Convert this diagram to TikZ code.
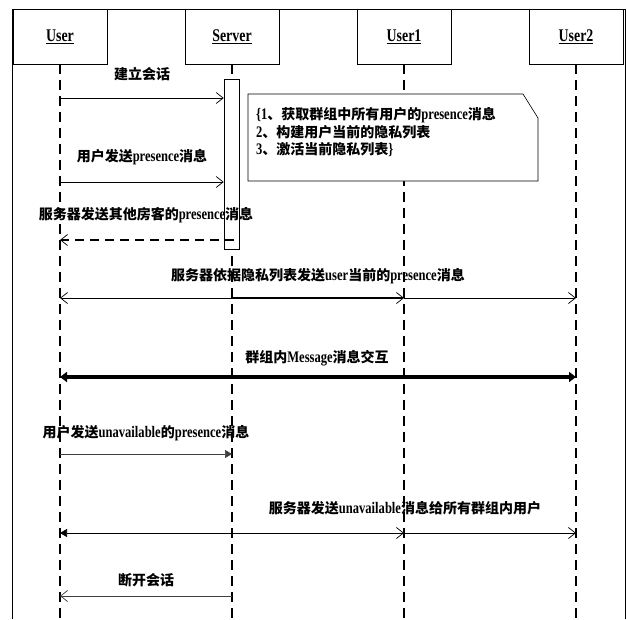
\documentclass[tikz,border=0pt]{standalone}
\usepackage{fontspec}
\setmainfont{Liberation Serif}[FakeStretch=0.78, Scale=1.15]
\newfontfamily\cjk{Noto Sans CJK SC}
\usetikzlibrary{arrows.meta}
\newcommand\zh[1]{{\cjk #1}}
\begin{document}
\begin{tikzpicture}[x=1pt,y=-1pt,
  box/.style={draw, line width=0.8pt, minimum width=94pt, minimum height=55pt, inner sep=0pt,
    font=\bfseries\fontsize{15.5}{17}\selectfont},
  lifeline/.style={line width=2.2pt, dash pattern=on 10pt off 6pt},
  msg/.style={line width=0.7pt, -{Straight Barb[length=7pt,width=11pt,line width=0.7pt]}},
  dmsg/.style={line width=2pt, dash pattern=on 9pt off 6pt, -{Straight Barb[length=7pt,width=11pt,line width=0.7pt]}},
  fmsg/.style={line width=0.7pt, -{Triangle[length=7pt,width=8pt]}},
  bigmsg/.style={line width=3.5pt, {Triangle[length=7pt,width=10pt]}-{Triangle[length=7pt,width=10pt]}},
  lbl/.style={font=\bfseries\fontsize{14}{16}\selectfont, inner sep=1pt},
  notetxt/.style={font=\bfseries\fontsize{14}{16}\selectfont, inner sep=0pt, anchor=west}]
\useasboundingbox (0,0) rectangle (627,619);
\fill[white] (0,0) rectangle (627,619);
% frame
\draw[line width=0.8pt] (12,619) -- (12,9) -- (625,9) -- (625,619);
% participants
\node[box] (user) at (60,36.5) {\underline{User}};
\node[box] (server) at (232,36.5) {\underline{Server}};
\node[box] (user1) at (404,36.5) {\underline{User1}};
\node[box] (user2) at (576,36.5) {\underline{User2}};
\coordinate (ue) at (60,619);
\coordinate (se) at (232,619);
\coordinate (u1e) at (404,619);
\coordinate (u2e) at (576,619);
\draw[lifeline] (user) -- (ue);
\draw[lifeline] (server) -- (se);
\draw[lifeline] (user1) -- (u1e);
\draw[lifeline] (user2) -- (u2e);
% activation bar
\node[draw, fill=white, line width=0.6pt, minimum width=15pt, minimum height=170pt, inner sep=0pt] (act) at (231.5,164) {};
% message 1
\node[lbl, fill=white] (l1) at (142,74) {\zh{建立会话}};
\coordinate (m1u) at (60,98);
\draw[msg] (m1u) -- (m1u -| act.west);
% message 2
\node[lbl] (l2) at (142,157) {\zh{用户发送}presence\zh{消息}};
\coordinate (m2u) at (60,182);
\draw[msg] (m2u) -- (m2u -| act.west);
% message 3
\node[lbl] (l3) at (146,215) {\zh{服务器发送其他房客的}presence\zh{消息}};
\coordinate (m3s) at (234,240);
\coordinate (m3u) at (60,240);
\draw[dmsg] (m3s) -- (m3u);
% note
\draw[line width=0.6pt, fill=white] (248,94) -- (523,94) -- (538,118) -- (538,181) -- (248,181) -- cycle;
\node[notetxt] (n1) at (256,115) {\{1\zh{、获取群组中所有用户的}presence\zh{消息}};
\node[notetxt] (n2) at (256,132.5) {2\zh{、构建用户当前的隐私列表}};
\node[notetxt] (n3) at (256,150) {3\zh{、激活当前隐私列表}\}};
% message 4
\node[lbl] (l4) at (318,276) {\zh{服务器依据隐私列表发送}user\zh{当前的}presence\zh{消息}};
\coordinate (m4u) at (60,298);
\coordinate (m4s) at (232,298);
\coordinate (m4a) at (404,298);
\coordinate (m4b) at (576,298);
\draw[msg] (m4s) -- (m4u);
\draw[msg, line width=1.2pt] (m4s) -- (m4a);
\draw[msg] (m4a) -- (m4b);
% message 5
\node[lbl] (l5) at (317,358) {\zh{群组内}Message\zh{消息交互}};
\coordinate (m5u) at (60,377);
\coordinate (m5b) at (576,377);
\draw[bigmsg] (m5u) -- (m5b);
% message 6
\node[lbl] (l6) at (146,433) {\zh{用户发送}unavailable\zh{的}presence\zh{消息}};
\coordinate (m6u) at (60,454);
\coordinate (m6s) at (232,454);
\draw[fmsg, black!75] (m6u) -- (m6s);
% message 7
\node[lbl] (l7) at (405,508) {\zh{服务器发送}unavailable\zh{消息给所有群组内用户}};
\coordinate (m7u) at (60,533);
\coordinate (m7s) at (232,533);
\coordinate (m7a) at (404,533);
\coordinate (m7b) at (576,533);
\draw[fmsg] (m7s) -- (m7u);
\draw[msg] (m7s) -- (m7a);
\draw[msg] (m7a) -- (m7b);
% message 8
\node[lbl] (l8) at (146,580) {\zh{断开会话}};
\coordinate (m8u) at (60,596);
\coordinate (m8s) at (232,596);
\draw[msg, black!75] (m8s) -- (m8u);
\end{tikzpicture}
\end{document}
